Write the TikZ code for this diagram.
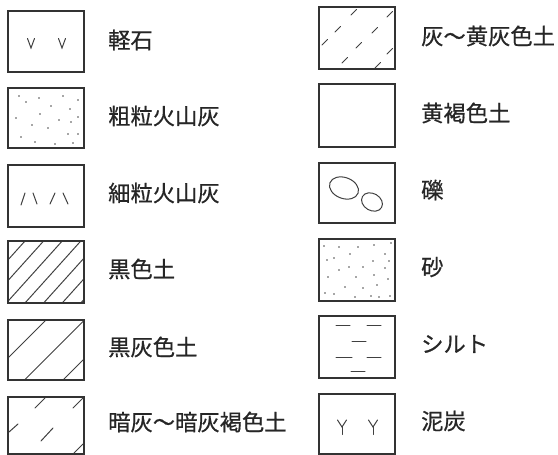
\documentclass[tikz,border=0pt]{standalone}
\usepackage{fontspec}
\newfontfamily\jp[FakeBold=0.6]{Noto Sans CJK JP}
\begin{document}
\begin{tikzpicture}[x=1pt,y=-1pt,
  legbox/.style={draw=black!80,line width=1.4pt},
  sym/.style={draw=black!75,line width=1pt,line cap=round},
  dotm/.style={fill=black!70},
  lab/.style={anchor=west,inner sep=0pt,font=\jp\fontsize{22.3}{22.3}\selectfont,text=black!85}]
\useasboundingbox (0,0) rectangle (558,455);
% ---------- left column ----------
% 1 軽石
\draw[legbox] (8,11) rectangle (84,72);
\draw[sym] (27.5,38.5) -- (31,48) -- (34.5,38.5);
\draw[sym] (58.5,38.5) -- (62,48) -- (65.5,38.5);
\node[lab] (t1) at (108,40) {軽石};
% 2 粗粒火山灰
\draw[legbox] (8,88) rectangle (84,148);
\foreach \p in {(19,96),(26,102),(39,98),(63,96),(78,100),(51,106),(70,109),(40,114),(16,118),(78,117),(59,120),(71,122),(32,125),(48,128),(68,134),(78,134),(21,137),(35,142),(55,144),(73,143)}
  \fill[dotm] \p circle (0.9);
\node[lab] (t2) at (108,116) {粗粒火山灰};
% 3 細粒火山灰
\draw[legbox] (8,165) rectangle (84,227);
\draw[sym] (21,205) -- (25,193);
\draw[sym] (33,193) -- (37,204);
\draw[sym] (50,204) -- (55,193);
\draw[sym] (63,193) -- (68,204);
\node[lab] (t3) at (108,193) {細粒火山灰};
% 4 黒色土
\begin{scope}
\clip (8,241) rectangle (84,303);
\foreach \i in {-1,...,6}
  \draw[sym,line cap=butt] ({25+18.6*\i},241) -- ({25+18.6*\i-55.8},303);
\end{scope}
\draw[legbox] (8,241) rectangle (84,303);
\node[lab] (t4) at (108,269) {黒色土};
% 5 黒灰色土
\begin{scope}
\clip (8,320) rectangle (84,380);
\foreach \c in {327.5,366,404.5,443}
  \draw[sym,line cap=butt] ({\c-320},320) -- ({\c-380},380);
\end{scope}
\draw[legbox] (8,320) rectangle (84,380);
\node[lab] (t5) at (108,347) {黒灰色土};
% 6 暗灰〜暗灰褐色土
\draw[legbox] (8,397) rectangle (84,454);
\draw[sym] (35,408) -- (45,398);
\draw[sym] (73,408) -- (83,398);
\draw[sym] (9,432) -- (18,424);
\draw[sym] (41,441) -- (53,428);
\draw[sym] (74,453) -- (83,444);
\node[lab] (t6) at (108,422) {暗灰～暗灰褐色土};
% ---------- right column ----------
% 7 灰〜黄灰色土
\draw[legbox] (319,7) rectangle (395,69);
\foreach \a/\b in {351/15,387/17,335/32,372/33,322/45,356/48,387/54,342/63,375/68}
  \draw[sym] (\a,\b) -- (\a+5.5,\b-5.5);
\node[lab] (t7) at (421,36) {灰～黄灰色土};
% 8 黄褐色土
\draw[legbox] (319,84) rectangle (395,147);
\node[lab] (t8) at (421,113) {黄褐色土};
% 9 礫
\draw[legbox] (319,163) rectangle (395,223);
\draw[sym] (344,188) ellipse [x radius=15,y radius=10.5,rotate=-20];
\draw[sym] (372,202) ellipse [x radius=11,y radius=8.5,rotate=-30];
\node[lab] (t9) at (421,190) {礫};
% 10 砂
\draw[legbox] (319,239) rectangle (395,301);
\foreach \p in {(324,246),(339,247),(358,247),(374,245),(391,243),(350,254),(385,254),(327,260),(334,258),(373,261),(389,261),(339,270),(349,267),(363,267),(385,268),(328,277),(356,277),(374,275),(388,279),(377,285),(345,287),(363,288),(325,293),(334,294),(355,297),(371,296),(379,297),(390,296)}
  \fill[dotm] \p circle (0.9);
\node[lab] (t10) at (421,267) {砂};
% 11 シルト
\draw[legbox] (319,316) rectangle (395,378);
\foreach \a/\b/\c in {336/350/325,367/381/325,352/366/341,336/352/357,367/381/357,351/365/371}
  \draw[sym] (\a,\c) -- (\b,\c);
\node[lab] (t11) at (421,344) {シルト};
% 12 泥炭
\draw[legbox] (319,394) rectangle (395,454);
\foreach \a in {342,373}{
  \draw[sym] (\a-4.5,420) -- (\a,427) -- (\a+4.5,420);
  \draw[sym] (\a,427) -- (\a,434.5);
}
\node[lab] (t12) at (421,421) {泥炭};
\end{tikzpicture}
\end{document}
